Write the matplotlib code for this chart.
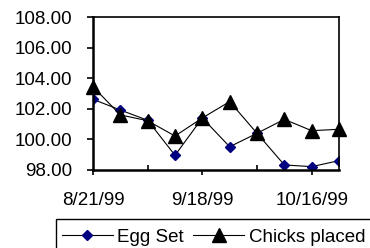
import datetime as dt

import matplotlib
matplotlib.use("Agg")
import matplotlib.pyplot as plt
import matplotlib.dates as mdates
from matplotlib.patches import Rectangle

plt.rcParams['font.family'] = ['Liberation Sans', 'DejaVu Sans']

dates = [dt.date(1999, 8, 21) + dt.timedelta(days=7 * i) for i in range(10)]
egg_set = [102.62, 101.92, 101.25, 98.96, 101.4, 99.52, 100.4, 98.33, 98.22, 98.61]
chicks_placed = [103.44, 101.6, 101.22, 100.22, 101.4, 102.47, 100.4, 101.31, 100.57, 100.66]
y_ticks = [98, 100, 102, 104, 106, 108]
label_dates = [dt.date(1999, 8, 21), dt.date(1999, 9, 18), dt.date(1999, 10, 16)]
minor_dates = [dt.date(1999, 9, 4), dt.date(1999, 10, 2)]

W, H = 370, 248
FS = 13.5
fig = plt.figure(figsize=(W / 100, H / 100), dpi=100)
ax = fig.add_axes([93 / W, (H - 170) / H, (339 - 93) / W, (170 - 17) / H])

ax.plot(dates, egg_set, color='black', lw=0.8, marker='D', ms=5,
        mfc='#000080', mec='#000080', label='Egg Set')
ax.plot(dates, chicks_placed, color='black', lw=0.8, marker='^', ms=9.5,
        mfc='black', mec='black', label='Chicks placed', clip_on=False)

ax.set_ylim(98, 108)
ax.set_yticks(y_ticks)
ax.yaxis.set_major_formatter(matplotlib.ticker.FormatStrFormatter('%.2f'))
ax.set_xlim(dates[0], dates[-1])

ax.set_xticks(mdates.date2num(label_dates))
ax.set_xticks(mdates.date2num(minor_dates), minor=True)
ax.set_xticklabels([d.strftime('%-m/%-d/%y') for d in label_dates])

ax.tick_params(axis='y', which='major', direction='out', length=4.3, width=1.2,
               labelsize=FS, pad=10.8)
ax.tick_params(axis='x', which='major', direction='out', length=3.6, width=1.2,
               labelsize=FS, pad=12)
ax.tick_params(axis='x', which='minor', direction='in', length=3.6, width=1.2)
for side in ['left', 'bottom']:
    ax.spines[side].set_linewidth(1.8)
for side in ['top', 'right']:
    ax.spines[side].set_linewidth(1.2)
for sp in ax.spines.values():
    sp.set_zorder(5)

# legend box runs off the bottom and right of the picture
fig.patches.append(Rectangle((56 / W, -0.2), 1.0, 1.2 - 219 / H, transform=fig.transFigure,
                             fill=False, edgecolor='black', lw=1.0))
fig.legend(loc='center left', bbox_to_anchor=(62 / W, 1 - 237 / H), ncol=2,
           fontsize=FS, frameon=False, handlelength=2.7, handletextpad=0.25,
           columnspacing=0.5, borderpad=0, borderaxespad=0)

fig.savefig('out.png', dpi=100)
